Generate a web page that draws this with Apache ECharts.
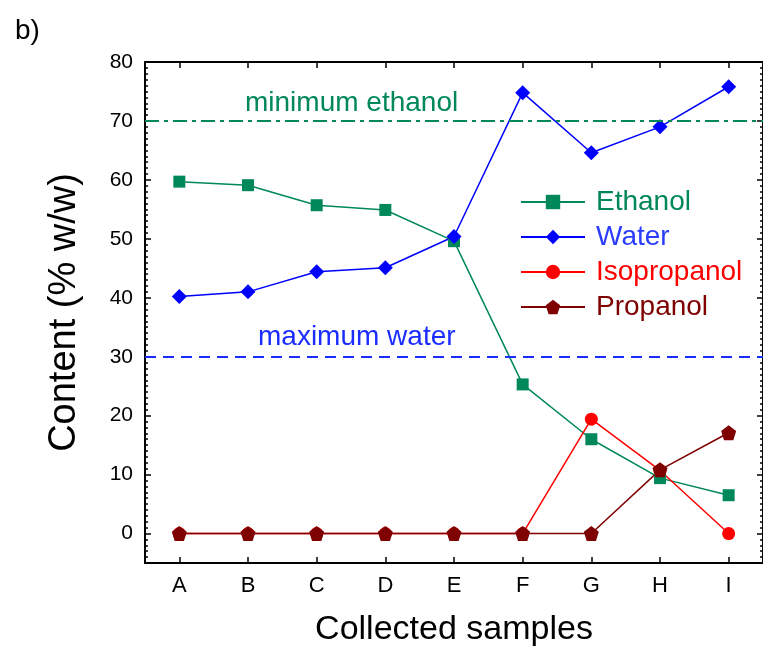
<!DOCTYPE html>
<html>
<head>
<meta charset="utf-8">
<script src="https://cdn.jsdelivr.net/npm/echarts@6/dist/echarts.min.js"></script>
<style>
  html, body { margin: 0; padding: 0; background: #fff; }
  #chart { width: 763px; height: 652px; }
</style>
</head>
<body>
<div id="chart"></div>
<script>
// sample names on the x axis
const samples = ['A', 'B', 'C', 'D', 'E', 'F', 'G', 'H', 'I'];
// content in % w/w
const ethanol = [59.7, 59.1, 55.7, 54.9, 49.6, 25.3, 16.0, 9.4, 6.5];
const water = [40.2, 41.0, 44.4, 45.1, 50.4, 74.8, 64.6, 69.0, 75.8];
const isopropanol = [0, 0, 0, 0, 0, 0, 19.4, 10.7, 0];
const propanol = [0, 0, 0, 0, 0, 0, 0, 10.8, 17.1];
// y tick labels and limits
const yTicks = [0, 10, 20, 30, 40, 50, 60, 70, 80];
const yMin = -5;
const yMax = 80;
// reference levels
const minEthanol = 70;
const maxWater = 30;

const FONT = 'Liberation Sans, Arial, sans-serif';
const GREEN = '#00875a';
const BLUE = '#0000ff';
const RED = '#ff0000';
const DARKRED = '#7f0000';
const PENTAGON = 'path://M0,-1 L0.951,-0.309 L0.588,0.809 L-0.588,0.809 L-0.951,-0.309 Z';

const chart = echarts.init(document.getElementById('chart'));

function catAxis(pos, showLabel) {
  return {
    type: 'category',
    data: samples,
    position: pos,
    boundaryGap: true,
    axisLine: { show: true, onZero: false, lineStyle: { color: '#000', width: 2 } },
    axisTick: { show: true, inside: true, alignWithLabel: true, length: 6, lineStyle: { color: '#000', width: 1.5 } },
    axisLabel: { show: showLabel, color: '#000', fontSize: 22, fontFamily: FONT, margin: 12 },
    splitLine: { show: false },
  };
}

function valAxis(pos, major, showLine) {
  const ax = {
    type: 'value',
    position: pos,
    min: yMin,
    max: yMax,
    axisLine: { show: showLine, onZero: false, lineStyle: { color: '#000', width: 2 } },
    splitLine: { show: false },
  };
  if (major) {
    ax.axisTick = { show: true, inside: true, length: 6, customValues: yTicks, lineStyle: { color: '#000', width: 1.5 } };
    ax.axisLabel = { show: pos === 'left', customValues: yTicks, color: '#000', fontSize: 21, fontFamily: FONT, margin: 12 };
  } else {
    // minor ticks every unit
    ax.interval = 1;
    ax.axisTick = { show: true, inside: true, length: 3, lineStyle: { color: '#000', width: 1.5 } };
    ax.axisLabel = { show: false };
  }
  return ax;
}

function refLine(value, text, color, dash, dist) {
  return {
    silent: true,
    symbol: 'none',
    animation: false,
    lineStyle: { color: color, width: 2, type: dash },
    label: {
      show: true,
      formatter: text,
      position: 'insideStartTop',
      distance: dist,
      color: color,
      fontSize: 28,
      fontFamily: FONT,
    },
    data: [{ yAxis: value }],
  };
}

chart.setOption({
  animation: false,
  backgroundColor: '#fff',
  title: {
    text: 'b)',
    left: 10,
    top: 12,
    textStyle: { fontSize: 28, fontWeight: 'normal', color: '#000', fontFamily: FONT },
  },
  grid: { left: 145, top: 62, width: 620, height: 501.5 },
  legend: {
    orient: 'vertical',
    left: 515,
    top: 183,
    itemWidth: 64,
    itemHeight: 18,
    itemGap: 7,
    textStyle: { fontSize: 28, fontFamily: FONT, lineHeight: 28, padding: [0, 0, 0, 6] },
    data: [
      { name: 'Ethanol', textStyle: { color: GREEN } },
      { name: 'Water', textStyle: { color: '#2a3cff' } },
      { name: 'Isopropanol', textStyle: { color: RED } },
      { name: 'Propanol', textStyle: { color: DARKRED } },
    ],
  },
  xAxis: [
    Object.assign(catAxis('bottom', true), {
      name: 'Collected samples',
      nameLocation: 'middle',
      nameGap: 50,
      nameTextStyle: { fontSize: 34, color: '#000', fontFamily: FONT },
    }),
    catAxis('top', false),
  ],
  yAxis: [
    Object.assign(valAxis('left', true, true), {
      name: 'Content (% w/w)',
      nameLocation: 'middle',
      nameGap: 61,
      nameTextStyle: { fontSize: 38, color: '#000', fontFamily: FONT },
    }),
    valAxis('left', false, false),
    valAxis('right', true, true),
    valAxis('right', false, false),
  ],
  series: [
    {
      name: 'Ethanol',
      type: 'line',
      data: ethanol,
      symbol: 'rect',
      symbolSize: 12,
      itemStyle: { color: GREEN },
      lineStyle: { color: GREEN, width: 1.5 },
      markLine: refLine(minEthanol, 'minimum ethanol', GREEN, [14, 5, 4, 5], [100, 4]),
    },
    {
      name: 'Water',
      type: 'line',
      data: water,
      symbol: 'diamond',
      symbolSize: 15,
      itemStyle: { color: BLUE },
      lineStyle: { color: BLUE, width: 1.5 },
      markLine: refLine(maxWater, 'maximum water', '#1a2cff', [11, 7], [113, 5]),
    },
    {
      name: 'Isopropanol',
      type: 'line',
      data: isopropanol,
      symbol: 'circle',
      symbolSize: 13,
      itemStyle: { color: RED },
      lineStyle: { color: RED, width: 1.5 },
    },
    {
      name: 'Propanol',
      type: 'line',
      data: propanol,
      symbol: PENTAGON,
      symbolSize: 15,
      itemStyle: { color: DARKRED },
      lineStyle: { color: DARKRED, width: 1.5 },
    },
  ],
});
</script>
</body>
</html>
